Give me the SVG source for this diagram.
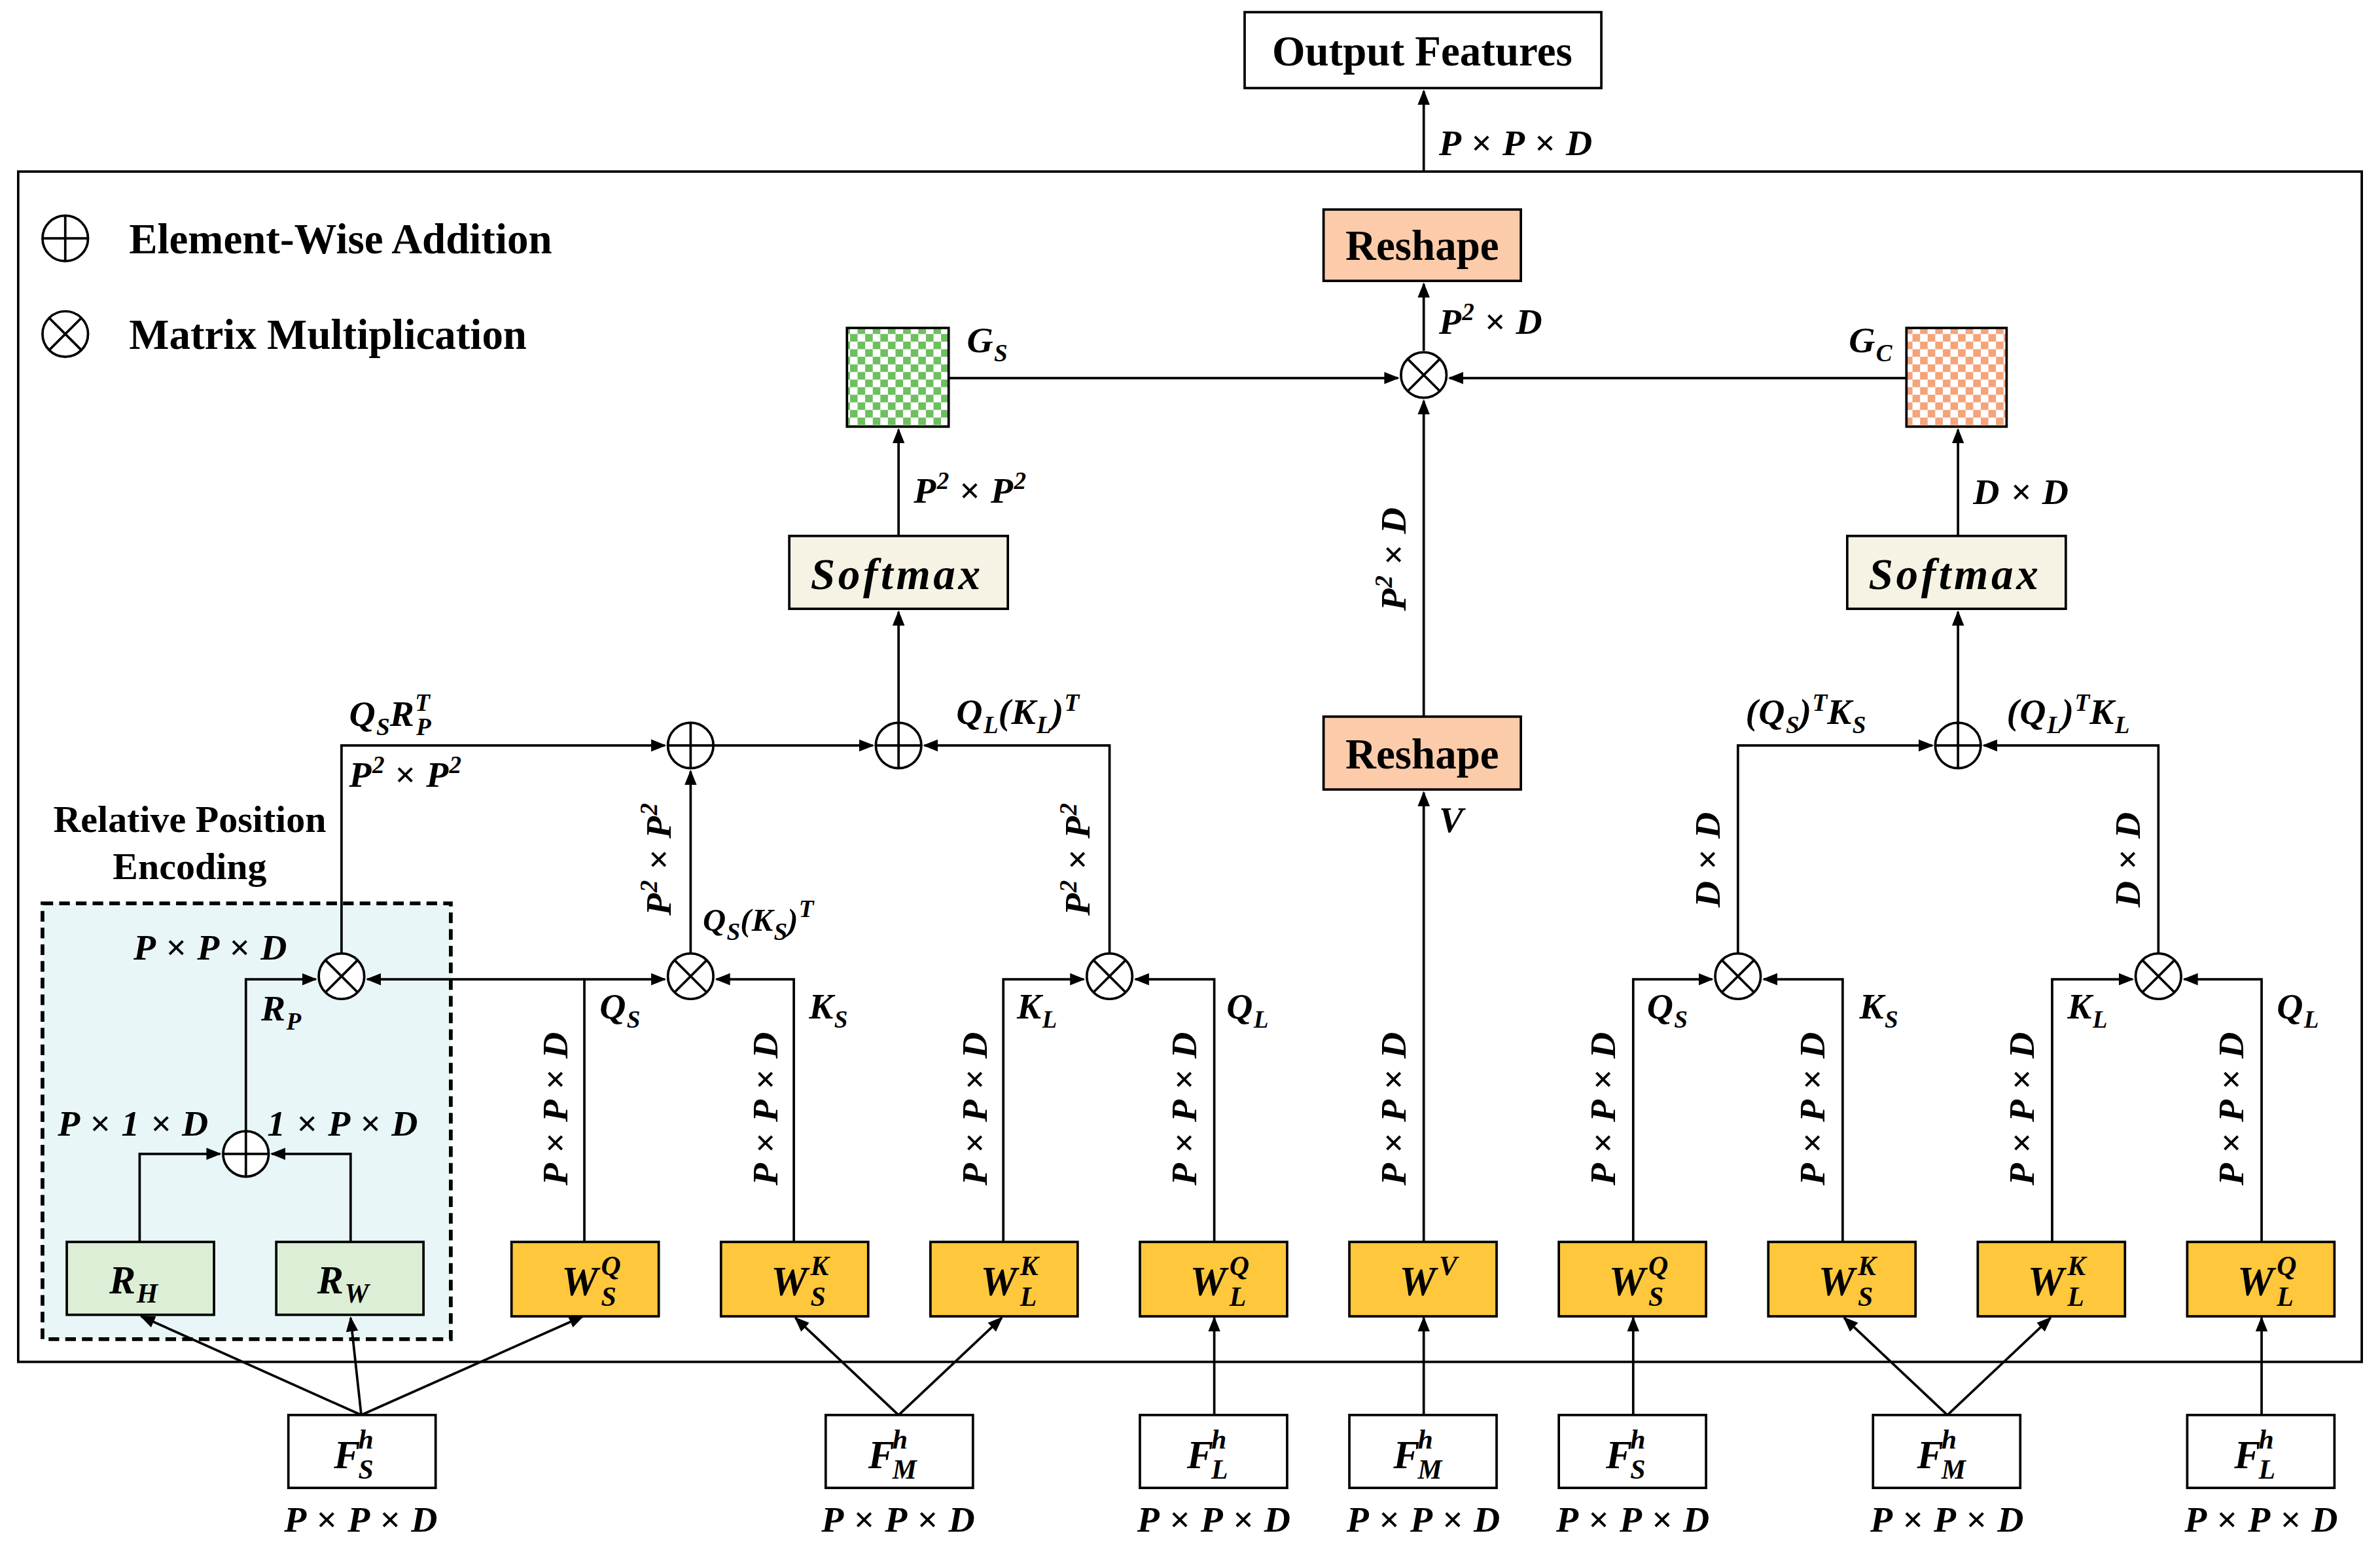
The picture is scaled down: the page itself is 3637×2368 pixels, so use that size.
<svg xmlns="http://www.w3.org/2000/svg" width="3637" height="2368" viewBox="0 0 3637 2368">
<style>
text{font-family:"Liberation Serif","Times New Roman",serif;font-weight:bold;fill:#000}
.m{font-style:italic;font-size:24px;letter-spacing:0.6px}
.s{font-style:italic;font-size:16px;letter-spacing:0}
.t{font-size:28px}
.ln{fill:none;stroke:#000;stroke-width:1.6}
.bx{stroke:#000;stroke-width:1.6}
.op{fill:#fff;stroke:#000;stroke-width:1.6}
.w{fill:#FFC73C}
</style>
<defs>
<marker id="a" markerWidth="10" markerHeight="10" refX="9" refY="5" orient="auto" markerUnits="userSpaceOnUse"><path d="M0,1 L10,5 L0,9 Z" fill="#000"/></marker>
<pattern id="pg" width="10" height="10" patternUnits="userSpaceOnUse"><rect width="10" height="10" fill="#fff"/><rect width="5" height="5" fill="#6dbf5f"/><rect x="5" y="5" width="5" height="5" fill="#6dbf5f"/></pattern>
<pattern id="po" width="10" height="10" patternUnits="userSpaceOnUse"><rect width="10" height="10" fill="#fff"/><rect width="5" height="5" fill="#f3a47a"/><rect x="5" y="5" width="5" height="5" fill="#f3a47a"/></pattern>
<g id="plus"><circle r="15" class="op"/><path d="M-15,0H15M0,-15V15" class="ln"/></g>
<g id="mul"><circle r="15" class="op"/><path d="M-10.6,-10.6L10.6,10.6M-10.6,10.6L10.6,-10.6" class="ln"/></g>
</defs>
<rect width="3637" height="2368" fill="#fff"/>
<g transform="scale(2.3195)">
<rect x="12" y="113" width="1544" height="784" class="ln"/>
<g id="legend">
<use href="#plus" x="43" y="157"/><text x="85" y="167" class="t">Element-Wise Addition</text>
<use href="#mul" x="43" y="220"/><text x="85" y="230" class="t">Matrix Multiplication</text>
</g>
<g id="output"><rect x="820" y="8" width="235" height="50" fill="#fff" class="bx"/><text x="937" y="43" text-anchor="middle" class="t">Output Features</text></g>
<g id="rpe"><rect x="28" y="595" width="269" height="287" fill="#e8f6f8" stroke="#000" stroke-width="2.5" stroke-dasharray="7,4"/>
<text x="125" y="548" text-anchor="middle" class="t" style="font-size:25px">Relative Position</text><text x="125" y="579" text-anchor="middle" class="t" style="font-size:25px">Encoding</text></g>
<g id="connectors">
<path d="M938,113V60" class="ln" marker-end="url(#a)"/>
<path d="M938,231V187" class="ln" marker-end="url(#a)"/>
<path d="M625,249H921" class="ln" marker-end="url(#a)"/>
<path d="M1256,249H955" class="ln" marker-end="url(#a)"/>
<path d="M592,353V283" class="ln" marker-end="url(#a)"/>
<path d="M1290,353V283" class="ln" marker-end="url(#a)"/>
<path d="M938,472V264" class="ln" marker-end="url(#a)"/>
<path d="M938,818V522" class="ln" marker-end="url(#a)"/>
<path d="M592,476V403" class="ln" marker-end="url(#a)"/>
<path d="M1290,476V403" class="ln" marker-end="url(#a)"/>
<path d="M225,628V491H438" class="ln" marker-end="url(#a)"/>
<path d="M470,491H575" class="ln" marker-end="url(#a)"/>
<path d="M731,628V491H609" class="ln" marker-end="url(#a)"/>
<path d="M455,628V508" class="ln" marker-end="url(#a)"/>
<path d="M385,818V645H438" class="ln" marker-end="url(#a)"/>
<path d="M385,645H242" class="ln" marker-end="url(#a)"/>
<path d="M523,818V645H472" class="ln" marker-end="url(#a)"/>
<path d="M661,818V645H714" class="ln" marker-end="url(#a)"/>
<path d="M800,818V645H748" class="ln" marker-end="url(#a)"/>
<path d="M1145,628V491H1273" class="ln" marker-end="url(#a)"/>
<path d="M1422,628V491H1307" class="ln" marker-end="url(#a)"/>
<path d="M1076,818V645H1128" class="ln" marker-end="url(#a)"/>
<path d="M1214,818V645H1162" class="ln" marker-end="url(#a)"/>
<path d="M1352,818V645H1405" class="ln" marker-end="url(#a)"/>
<path d="M1490,818V645H1439" class="ln" marker-end="url(#a)"/>
<path d="M92,818V760H145" class="ln" marker-end="url(#a)"/>
<path d="M231,818V760H179" class="ln" marker-end="url(#a)"/>
<path d="M162,745V645H208" class="ln" marker-end="url(#a)"/>
<path d="M238,932L93,867" class="ln" marker-end="url(#a)"/>
<path d="M238,932L231,868" class="ln" marker-end="url(#a)"/>
<path d="M238,932L384,867" class="ln" marker-end="url(#a)"/>
<path d="M592,932L524,868" class="ln" marker-end="url(#a)"/>
<path d="M592,932L660,868" class="ln" marker-end="url(#a)"/>
<path d="M800,932V868" class="ln" marker-end="url(#a)"/>
<path d="M938,932V868" class="ln" marker-end="url(#a)"/>
<path d="M1076,932V868" class="ln" marker-end="url(#a)"/>
<path d="M1283,932L1215,868" class="ln" marker-end="url(#a)"/>
<path d="M1283,932L1351,868" class="ln" marker-end="url(#a)"/>
<path d="M1490,932V868" class="ln" marker-end="url(#a)"/>
</g>
<g id="ops">
<use href="#mul" x="938" y="247"/>
<use href="#plus" x="455" y="491"/><use href="#plus" x="592" y="491"/><use href="#plus" x="1290" y="491"/>
<use href="#mul" x="455" y="643"/><use href="#mul" x="731" y="643"/><use href="#mul" x="225" y="643"/>
<use href="#mul" x="1145" y="643"/><use href="#mul" x="1422" y="643"/><use href="#plus" x="162" y="760"/>
</g>
<g id="reshape1"><rect x="872" y="138" width="130" height="47" fill="#FBCBAA" class="bx"/><text x="937" y="171" text-anchor="middle" class="t">Reshape</text></g>
<g id="reshape2"><rect x="872" y="472" width="130" height="48" fill="#FBCBAA" class="bx"/><text x="937" y="506" text-anchor="middle" class="t">Reshape</text></g>
<g id="gs"><rect x="558" y="216" width="67" height="65" fill="url(#pg)" class="bx"/><text x="637" y="232" class="m">G<tspan class="s" dy="6">S</tspan></text></g>
<g id="gc"><rect x="1256" y="216" width="66" height="65" fill="url(#po)" class="bx"/><text x="1218" y="232" class="m">G<tspan class="s" dy="6">C</tspan></text></g>
<g id="softmax1"><rect x="520" y="353" width="144" height="48" fill="#F6F3E4" class="bx"/><text x="591" y="388" text-anchor="middle" class="m" style="font-size:29px;letter-spacing:2px">Softmax</text></g>
<g id="softmax2"><rect x="1217" y="353" width="144" height="48" fill="#F6F3E4" class="bx"/><text x="1288" y="388" text-anchor="middle" class="m" style="font-size:29px;letter-spacing:2px">Softmax</text></g>
<g id="rh"><rect x="44" y="818" width="97" height="48" fill="#DCEFD6" class="bx"/><text x="88" y="852" text-anchor="middle" class="m" style="font-size:26px">R<tspan class="s" dy="6" style="font-size:18px">H</tspan></text></g>
<g id="rw"><rect x="182" y="818" width="97" height="48" fill="#DCEFD6" class="bx"/><text x="226" y="852" text-anchor="middle" class="m" style="font-size:26px">R<tspan class="s" dy="6" style="font-size:18px">W</tspan></text></g>
<g id="wboxes">
<rect x="337" y="818" width="97" height="49" class="w bx"/><text x="370" y="853" class="m" style="font-size:27px">W</text><text x="396" y="840" class="s" style="font-size:18px">Q</text><text x="396" y="860" class="s" style="font-size:18px">S</text>
<rect x="475" y="818" width="97" height="49" class="w bx"/><text x="508" y="853" class="m" style="font-size:27px">W</text><text x="534" y="840" class="s" style="font-size:18px">K</text><text x="534" y="860" class="s" style="font-size:18px">S</text>
<rect x="613" y="818" width="97" height="49" class="w bx"/><text x="646" y="853" class="m" style="font-size:27px">W</text><text x="672" y="840" class="s" style="font-size:18px">K</text><text x="672" y="860" class="s" style="font-size:18px">L</text>
<rect x="751" y="818" width="97" height="49" class="w bx"/><text x="784" y="853" class="m" style="font-size:27px">W</text><text x="810" y="840" class="s" style="font-size:18px">Q</text><text x="810" y="860" class="s" style="font-size:18px">L</text>
<rect x="889" y="818" width="97" height="49" class="w bx"/><text x="922" y="853" class="m" style="font-size:27px">W</text><text x="948" y="840" class="s" style="font-size:18px">V</text>
<rect x="1027" y="818" width="97" height="49" class="w bx"/><text x="1060" y="853" class="m" style="font-size:27px">W</text><text x="1086" y="840" class="s" style="font-size:18px">Q</text><text x="1086" y="860" class="s" style="font-size:18px">S</text>
<rect x="1165" y="818" width="97" height="49" class="w bx"/><text x="1198" y="853" class="m" style="font-size:27px">W</text><text x="1224" y="840" class="s" style="font-size:18px">K</text><text x="1224" y="860" class="s" style="font-size:18px">S</text>
<rect x="1303" y="818" width="97" height="49" class="w bx"/><text x="1336" y="853" class="m" style="font-size:27px">W</text><text x="1362" y="840" class="s" style="font-size:18px">K</text><text x="1362" y="860" class="s" style="font-size:18px">L</text>
<rect x="1441" y="818" width="97" height="49" class="w bx"/><text x="1474" y="853" class="m" style="font-size:27px">W</text><text x="1500" y="840" class="s" style="font-size:18px">Q</text><text x="1500" y="860" class="s" style="font-size:18px">L</text>
</g>
<g id="fboxes">
<rect x="190" y="932" width="97" height="48" fill="#fff" class="bx"/><text x="220" y="967" class="m" style="font-size:26px">F</text><text x="236" y="954" class="s" style="font-size:18px">h</text><text x="236" y="974" class="s" style="font-size:18px">S</text><text x="238" y="1009" text-anchor="middle" class="m">P × P × D</text>
<rect x="544" y="932" width="97" height="48" fill="#fff" class="bx"/><text x="572" y="967" class="m" style="font-size:26px">F</text><text x="588" y="954" class="s" style="font-size:18px">h</text><text x="588" y="974" class="s" style="font-size:18px">M</text><text x="592" y="1009" text-anchor="middle" class="m">P × P × D</text>
<rect x="751" y="932" width="97" height="48" fill="#fff" class="bx"/><text x="782" y="967" class="m" style="font-size:26px">F</text><text x="798" y="954" class="s" style="font-size:18px">h</text><text x="798" y="974" class="s" style="font-size:18px">L</text><text x="800" y="1009" text-anchor="middle" class="m">P × P × D</text>
<rect x="889" y="932" width="97" height="48" fill="#fff" class="bx"/><text x="918" y="967" class="m" style="font-size:26px">F</text><text x="934" y="954" class="s" style="font-size:18px">h</text><text x="934" y="974" class="s" style="font-size:18px">M</text><text x="938" y="1009" text-anchor="middle" class="m">P × P × D</text>
<rect x="1027" y="932" width="97" height="48" fill="#fff" class="bx"/><text x="1058" y="967" class="m" style="font-size:26px">F</text><text x="1074" y="954" class="s" style="font-size:18px">h</text><text x="1074" y="974" class="s" style="font-size:18px">S</text><text x="1076" y="1009" text-anchor="middle" class="m">P × P × D</text>
<rect x="1234" y="932" width="97" height="48" fill="#fff" class="bx"/><text x="1263" y="967" class="m" style="font-size:26px">F</text><text x="1279" y="954" class="s" style="font-size:18px">h</text><text x="1279" y="974" class="s" style="font-size:18px">M</text><text x="1283" y="1009" text-anchor="middle" class="m">P × P × D</text>
<rect x="1441" y="932" width="97" height="48" fill="#fff" class="bx"/><text x="1472" y="967" class="m" style="font-size:26px">F</text><text x="1488" y="954" class="s" style="font-size:18px">h</text><text x="1488" y="974" class="s" style="font-size:18px">L</text><text x="1490" y="1009" text-anchor="middle" class="m">P × P × D</text>
</g>
<g id="labels">
<text x="948" y="102" class="m">P × P × D</text>
<text x="948" y="220" class="m">P<tspan class="s" dy="-9">2</tspan><tspan dy="9"> × D</tspan></text>
<text x="602" y="331" class="m">P<tspan class="s" dy="-9">2</tspan><tspan dy="9"> × P</tspan><tspan class="s" dy="-9">2</tspan></text>
<text x="1300" y="332" class="m">D × D</text>
<text transform="translate(926,368) rotate(-90)" text-anchor="middle" class="m">P<tspan class="s" dy="-9">2</tspan><tspan dy="9"> × D</tspan></text>
<text x="948" y="548" class="m">V</text>
<text x="230" y="478" class="m">Q<tspan class="s" dy="6">S</tspan><tspan dy="-6">R</tspan><tspan class="s" dy="-10">T</tspan><tspan class="s" dx="-9" dy="16">P</tspan></text>
<text x="230" y="518" class="m">P<tspan class="s" dy="-9">2</tspan><tspan dy="9"> × P</tspan><tspan class="s" dy="-9">2</tspan></text>
<text x="630" y="477" class="m">Q<tspan class="s" dy="6">L</tspan><tspan dy="-6">(K</tspan><tspan class="s" dy="6">L</tspan><tspan dy="-6">)</tspan><tspan class="s" dy="-9">T</tspan></text>
<text x="463" y="613" class="m" style="font-size:21px">Q<tspan class="s" dy="6">S</tspan><tspan dy="-6">(K</tspan><tspan class="s" dy="6">S</tspan><tspan dy="-6">)</tspan><tspan class="s" dy="-9">T</tspan></text>
<text x="1150" y="477" class="m">(Q<tspan class="s" dy="6">S</tspan><tspan dy="-6">)</tspan><tspan class="s" dy="-9">T</tspan><tspan dy="9">K</tspan><tspan class="s" dy="6">S</tspan></text>
<text x="1322" y="477" class="m">(Q<tspan class="s" dy="6">L</tspan><tspan dy="-6">)</tspan><tspan class="s" dy="-9">T</tspan><tspan dy="9">K</tspan><tspan class="s" dy="6">L</tspan></text>
<text transform="translate(442,566) rotate(-90)" text-anchor="middle" class="m">P<tspan class="s" dy="-9">2</tspan><tspan dy="9"> × P</tspan><tspan class="s" dy="-9">2</tspan></text>
<text transform="translate(718,566) rotate(-90)" text-anchor="middle" class="m">P<tspan class="s" dy="-9">2</tspan><tspan dy="9"> × P</tspan><tspan class="s" dy="-9">2</tspan></text>
<text transform="translate(1133,566) rotate(-90)" text-anchor="middle" class="m">D × D</text>
<text transform="translate(1410,566) rotate(-90)" text-anchor="middle" class="m">D × D</text>
<text transform="translate(374,730) rotate(-90)" text-anchor="middle" class="m">P × P × D</text>
<text transform="translate(512,730) rotate(-90)" text-anchor="middle" class="m">P × P × D</text>
<text transform="translate(650,730) rotate(-90)" text-anchor="middle" class="m">P × P × D</text>
<text transform="translate(788,730) rotate(-90)" text-anchor="middle" class="m">P × P × D</text>
<text transform="translate(926,730) rotate(-90)" text-anchor="middle" class="m">P × P × D</text>
<text transform="translate(1064,730) rotate(-90)" text-anchor="middle" class="m">P × P × D</text>
<text transform="translate(1202,730) rotate(-90)" text-anchor="middle" class="m">P × P × D</text>
<text transform="translate(1340,730) rotate(-90)" text-anchor="middle" class="m">P × P × D</text>
<text transform="translate(1478,730) rotate(-90)" text-anchor="middle" class="m">P × P × D</text>
<text x="395" y="671" class="m">Q<tspan class="s" dy="6">S</tspan></text>
<text x="533" y="671" class="m">K<tspan class="s" dy="6">S</tspan></text>
<text x="670" y="671" class="m">K<tspan class="s" dy="6">L</tspan></text>
<text x="808" y="671" class="m">Q<tspan class="s" dy="6">L</tspan></text>
<text x="1085" y="671" class="m">Q<tspan class="s" dy="6">S</tspan></text>
<text x="1225" y="671" class="m">K<tspan class="s" dy="6">S</tspan></text>
<text x="1362" y="671" class="m">K<tspan class="s" dy="6">L</tspan></text>
<text x="1500" y="671" class="m">Q<tspan class="s" dy="6">L</tspan></text>
<text x="88" y="632" class="m">P × P × D</text>
<text x="172" y="672" class="m">R<tspan class="s" dy="6">P</tspan></text>
<text x="38" y="748" class="m">P × 1 × D</text>
<text x="176" y="748" class="m">1 × P × D</text>
</g>
</g>
</svg>
